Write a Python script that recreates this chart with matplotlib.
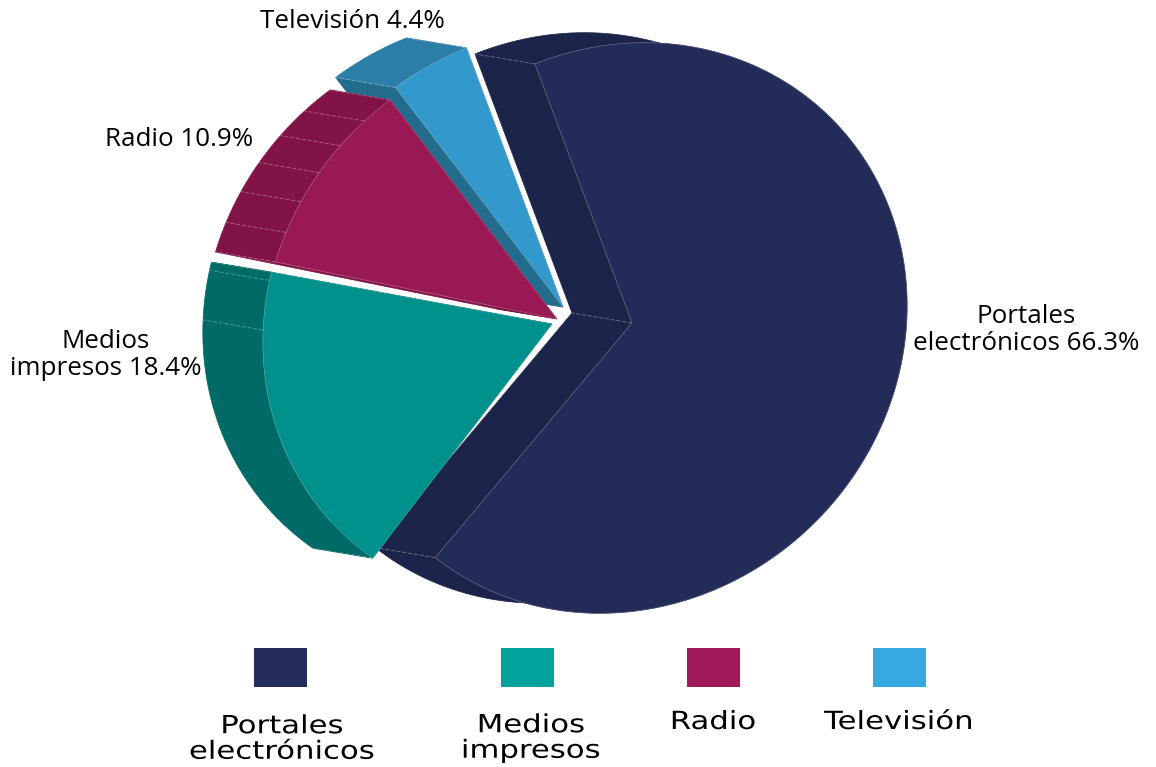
import numpy as np
import matplotlib
matplotlib.use('Agg')
import matplotlib.pyplot as plt
from matplotlib.patches import Polygon, Rectangle
from matplotlib.patheffects import AbstractPathEffect
from matplotlib.transforms import Affine2D

# Data
categories = ['Portales electrónicos', 'Medios impresos', 'Radio', 'Televisión']
shares = [66.3, 18.4, 10.9, 4.4]
slice_labels = ['Portales\nelectrónicos 66.3%', 'Medios\nimpresos 18.4%', 'Radio 10.9%', 'Televisión 4.4%']
legend_labels = ['Portales\nelectrónicos', 'Medios\nimpresos', 'Radio', 'Televisión']

top_colors = ['#232c58', '#00918c', '#981953', '#3398cc']
side_colors = ['#1d2449', '#006a66', '#821346', '#2c7ea8']
cut_colors = ['#1d2449', '#006a66', '#821346', '#246c8c']
legend_colors = ['#232c5c', '#00a29b', '#a0195a', '#36a9e1']

# Layout (pixels, y down)
apexes = [(632, 323), (552, 324), (557, 319), (563, 307)]
centres = [(622, 328), (548, 320), (548, 324.5), (553.5, 312)]
angle_shift = [0, 3, 0, 0]
depth = np.array([-60.0, -10.0])
start_angle = 110.0
semi_long, semi_short, tilt = 299.0, 276.0, np.radians(39)
x_squeeze = 0.983

cos_t, sin_t = np.cos(tilt), np.sin(tilt)
rot = np.array([[cos_t, -sin_t], [sin_t, cos_t]])
stretch = np.diag([x_squeeze, 1.0]) @ rot @ np.diag([semi_long, semi_short]) @ rot.T


class Widen(AbstractPathEffect):
    """Stretch text sideways around x=cx, the legend type is set wide"""
    def __init__(self, factor, cx):
        self.factor = factor
        self.cx = cx

    def draw_path(self, renderer, gc, tpath, affine, rgbFace=None):
        wide = Affine2D().translate(-self.cx, 0).scale(self.factor, 1).translate(self.cx, 0)
        renderer.draw_path(gc, tpath, affine + wide, rgbFace)


def rim(centre, angles):
    """Points on the tilted pie ellipse, angles in degrees counterclockwise"""
    a = np.radians(angles)
    xy = stretch @ np.vstack([np.cos(a), np.sin(a)])
    return np.column_stack([centre[0] + xy[0], centre[1] - xy[1]])


def wall(ax, pts, color, zorder):
    pts = np.asarray(pts)
    outline = np.vstack([pts, (pts + depth)[::-1]])
    ax.add_patch(Polygon(outline, closed=True, fc=color, ec=color, lw=0.5, zorder=zorder))


def dashed(ax, p, zorder):
    ax.plot([p[0], p[0] + depth[0]], [p[1], p[1] + depth[1]], color='#ffffff', lw=0.6,
            alpha=0.35, ls=(0, (5, 2)), zorder=zorder)


fig = plt.figure(figsize=(11.56, 7.67), dpi=100)
ax = fig.add_axes([0, 0, 1, 1])
ax.set_xlim(0, 1156)
ax.set_ylim(767, 0)
ax.axis('off')

# Slices run clockwise: Portales from the top, then Medios, Radio, Television
sweeps = [s / sum(shares) * 360 for s in shares]
ends = np.cumsum(sweeps)
draw_order = [0, 3, 2, 1]
facets = {0: [], 1: [0.825, 0.975], 2: [0.16, 0.33, 0.5, 0.67, 0.84], 3: []}

for rank, i in enumerate(draw_order):
    a0 = start_angle + angle_shift[i] - (ends[i] - sweeps[i])
    a1 = start_angle + angle_shift[i] - ends[i]
    arc = rim(centres[i], np.linspace(a0, a1, 160))
    apex = np.array(apexes[i], dtype=float)
    z = 2 + rank

    # walls first, the top face goes over them
    wall(ax, [apex, arc[0]], cut_colors[i], z)
    wall(ax, [apex, arc[-1]], cut_colors[i], z)
    wall(ax, arc, side_colors[i], z)
    ax.add_patch(Polygon(np.vstack([apex, arc]), closed=True, fc=top_colors[i],
                         ec=(1, 1, 1, 0.25), lw=0.5, zorder=z + 0.2))
    for p in [arc[0], arc[-1]]:
        dashed(ax, p, z + 0.1)
    for f in facets[i]:
        dashed(ax, arc[int(f * (len(arc) - 1))], z + 0.1)
    if i == 0:
        dashed(ax, apex, z + 0.1)

# Labels
label_pos = [(1026, 330), (106, 355), (179, 139), (352, 21)]
for (x, y), text in zip(label_pos, slice_labels):
    ax.text(x, y, text, ha='center', va='center', fontsize=18.7, family='Open Sans',
            color='#000000', linespacing=1.06, zorder=10)

# Legend
swatch_x = [254, 501, 687, 873]
text_x = [282, 531, 713, 899]
text_y = [739, 738, 722, 722]
for x, tx, ty, color, text in zip(swatch_x, text_x, text_y, legend_colors, legend_labels):
    ax.add_patch(Rectangle((x, 648), 53, 39, fc=color, ec='none', zorder=10))
    ax.text(tx, ty, text, ha='center', va='center', fontsize=18, family='DejaVu Sans',
            color='#000000', linespacing=1.08, zorder=10,
            path_effects=[Widen(1.23, tx)])

fig.savefig('out.png', dpi=100)
